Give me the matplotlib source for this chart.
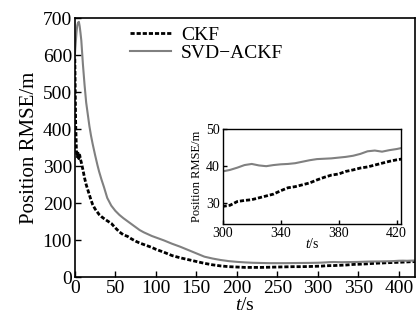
import matplotlib
matplotlib.use("Agg")
import matplotlib.pyplot as plt

plt.rcParams['font.family'] = ['Liberation Serif', 'DejaVu Serif']
plt.rcParams['mathtext.fontset'] = 'custom'
plt.rcParams['mathtext.rm'] = 'Liberation Serif'
plt.rcParams['mathtext.it'] = 'Liberation Serif:italic'

# time axis (s)
t = [0, 1, 2, 3, 4, 5, 6, 7, 8, 10, 12, 14, 16, 18, 20, 22, 25, 28, 30, 33, 36, 40,
     45, 50, 55, 60, 65, 70, 75, 80, 85, 90, 95, 100, 110, 120, 130, 140, 150,
     160, 170, 180, 190, 200, 210, 220, 230, 240, 250, 260, 270, 280, 290,
     300, 305, 310, 315, 320, 325, 330, 335, 340, 345, 350, 355, 360, 365, 370,
     375, 380, 385, 390, 395, 400, 405, 410, 415, 420, 425]

ckf = [590, 420, 340, 325, 335, 320, 330, 318, 310, 290, 268, 250, 236, 222, 208,
       196, 184, 175, 169, 163, 158, 152, 145, 133, 122, 114, 110, 103, 97, 92,
       88, 84, 80, 75, 67, 58, 52, 47, 42, 37, 33, 30, 28, 27, 26, 26, 26, 26.5,
       27, 27.5, 28, 28, 28.5,
       29.2, 29.5, 30.5, 30.8, 31.0, 31.5, 32.0, 32.5, 33.4, 34.2, 34.5, 35.0,
       35.5, 36.3, 37.0, 37.6, 37.9, 38.6, 39.0, 39.5, 39.8, 40.3, 40.8, 41.3,
       41.7, 42.0]

svd_ackf = [600, 630, 660, 680, 688, 690, 678, 660, 640, 575, 520, 472, 440, 408,
            382, 360, 330, 302, 285, 263, 243, 214, 193, 179, 168, 159, 151, 143,
            135, 127, 121, 116, 111, 107, 99, 90, 82, 73, 64, 55, 50, 46, 43, 41,
            39.5, 38.5, 38, 37.5, 37.5, 37.5, 37.8, 38, 38.2,
            38.6, 39.0, 39.6, 40.3, 40.6, 40.2, 40.0, 40.3, 40.5, 40.6, 40.8, 41.2,
            41.6, 41.9, 42.0, 42.1, 42.3, 42.5, 42.8, 43.3, 44.0, 44.2, 43.9, 44.3,
            44.6, 45.0]

fig = plt.figure(figsize=(4.18, 3.24), dpi=100)
ax = fig.add_axes([0.179, 0.145, 0.814, 0.799])

ax.plot(t, ckf, color='black', lw=2, dashes=(1.5, 0.7), label='CKF')
ax.plot(t, svd_ackf, color='#808080', lw=1.5, label='SVD\u2212ACKF')
ax.set_xlim(0, 420)
ax.set_ylim(0, 700)
ax.set_xticks(range(0, 401, 50))
ax.set_yticks(range(0, 701, 100))
ax.tick_params(direction='in', labelsize=14, length=4, width=1, pad=2)
ax.set_xlabel('$t$/s', fontsize=14, labelpad=0)
ax.set_ylabel('Position RMSE/m', fontsize=15, labelpad=3)
for s in ax.spines.values():
    s.set_linewidth(1.2)
ax.legend(loc='upper left', bbox_to_anchor=(0.14, 1.0), frameon=False,
          fontsize=14, handlelength=2.1, handletextpad=0.5,
          labelspacing=0.05, borderaxespad=0)

# inset
axin = fig.add_axes([0.533, 0.309, 0.426, 0.293])
axin.plot(t, ckf, color='black', lw=2, dashes=(1.5, 0.7))
axin.plot(t, svd_ackf, color='#808080', lw=1.5)
axin.set_xlim(300, 423)
axin.set_ylim(24.5, 50)
axin.set_xticks([300, 340, 380, 420])
axin.set_yticks([30, 40, 50])
axin.tick_params(direction='in', labelsize=10, length=3, width=1, pad=2)
axin.set_xlabel('$t$/s', fontsize=10, labelpad=-2)
axin.set_ylabel('Position RMSE/m', fontsize=9, labelpad=2)
for s in axin.spines.values():
    s.set_linewidth(1)

fig.savefig('out.png', dpi=100)
